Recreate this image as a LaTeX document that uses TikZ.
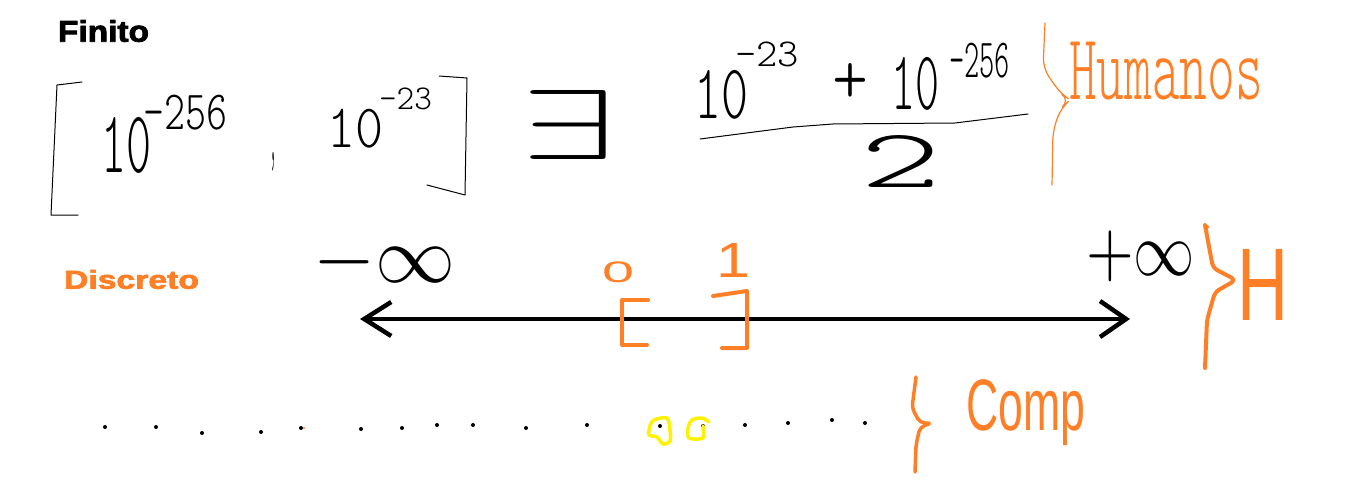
\documentclass[tikz,border=0pt]{standalone}
\usepackage{graphicx}
\usepackage{fontspec}
\usepackage{tikz}
\usetikzlibrary{arrows.meta}
\setmainfont{Liberation Sans}
\newfontfamily\heavyfont[FakeBold=2.5]{Liberation Sans Bold}
\newfontfamily\thinfont{lmmonolt10-regular.otf}
\definecolor{paint_orange}{RGB}{255,127,39}
\definecolor{paint_yellow}{RGB}{255,242,0}
\newcommand{\boxtext}[3]{\resizebox*{#1pt}{#2pt}{#3}}

\begin{document}
\begin{tikzpicture}[x=1pt,y=-1pt,line cap=round,line join=round]
    \tikzstyle{txt}=[inner sep=0pt, outer sep=0pt, anchor=north west]
    \tikzstyle{thin_txt}=[txt, font=\thinfont, text=black]
    \tikzstyle{thin_orange}=[txt, font=\thinfont, text=paint_orange]
    \tikzstyle{thick_orange}=[txt, text=paint_orange]
    \tikzstyle{heading}=[txt, font=\heavyfont]
    \tikzstyle{pen}=[draw=black, line width=1pt]
    \tikzstyle{marker}=[line width=4.5pt]

    \useasboundingbox (0,0) rectangle (1357,484);

    \node[heading, text=black] (finito) at (58,20) {\boxtext{91}{22}{Finito}};
    \node[heading, text=paint_orange] (discreto) at (64,270) {\boxtext{135}{19}{Discreto}};

    \node[thin_txt] (ten_a)     at (101,117) {\boxtext{50}{56}{10}};
    \node[thin_txt] (pow_a)     at (143,95)  {\boxtext{84}{35}{-256}};
    \node[thin_txt] (comma)     at (270,152) {\boxtext{6}{19}{,}};
    \node[thin_txt] (ten_b)     at (327,109) {\boxtext{56}{39}{10}};
    \node[thin_txt] (pow_b)     at (379,88)  {\boxtext{53}{22}{-23}};
    \node[txt] (exists)         at (521,90)  {\boxtext{94}{69}{$\exists$}};
    \node[thin_txt] (num_ten_a) at (694,70)  {\boxtext{54}{49}{10}};
    \node[thin_txt] (num_pow_a) at (735,42)  {\boxtext{64}{25}{-23}};
    \node[thin_txt] (plus)      at (832,63)  {\boxtext{36}{40}{+}};
    \node[thin_txt] (num_ten_b) at (891,57)  {\boxtext{48}{53}{10}};
    \node[thin_txt] (num_pow_b) at (949,43)  {\boxtext{61}{35}{-256}};
    \node[thin_txt] (den_two)   at (860,135) {\boxtext{81}{52}{2}};
    \node[thin_orange] (humanos) at (1069,42) {\boxtext{194}{58}{Humanos}};

    \node[txt] (minus_inf) at (313,235)  {\boxtext{142}{54}{$-\infty$}};
    \node[txt] (plus_inf)  at (1086,231) {\boxtext{109}{51}{$+\infty$}};
    \node[thick_orange] (zero)    at (602,262)  {\boxtext{32}{21}{0}};
    \node[thick_orange] (one)     at (716,243)  {\boxtext{34}{34}{1}};
    \node[thick_orange] (h_label) at (1237,249) {\boxtext{51}{71}{H}};
    \node[thick_orange] (comp)    at (966,380)  {\boxtext{119}{66}{Comp}};

    \draw[pen] (82,82) -- (57,85) -- (51,215) -- (78,215);
    \draw[pen] (439,76) -- (467,78) -- (465,195) -- (427,185);
    \draw[pen] (700,139) -- (793,127) -- (833,124) -- (955,123) -- (1028,114);
    \draw[draw=paint_orange, line width=1.2pt, rounded corners=10pt]
      (1045,23) -- (1043,68) -- (1060,93) -- (1070,100) -- (1061,108) -- (1053,130) -- (1052,185);

    \coordinate (line_l) at (360,319);
    \coordinate (line_r) at (1130,319);
    \draw[marker, {Straight Barb[length=27pt,width=34pt]}-{Straight Barb[length=26pt,width=36pt]}] (line_l) -- (line_r);

    \draw[paint_orange, line width=4pt] (648,300) -- (622,300) -- (622,345) -- (647,345);
    \draw[paint_orange, line width=4pt] (713,296) -- (747,291) -- (747,348) -- (722,348);
    \draw[paint_orange, line width=4pt, rounded corners=5pt]
      (1205,225) -- (1213,268) -- (1236,280) -- (1215,292) -- (1207,320) -- (1205,368);
    \draw[paint_orange, line width=3.5pt, rounded corners=5pt]
      (916,377) -- (912,408) -- (920,423) -- (932,423) -- (920,427) -- (916,445) -- (915,472);

    \foreach \px/\py in {105/427, 156/427, 202/433, 261/432, 301/428, 361/429, 402/428, 437/425,
                         473/425, 526/428, 587/425, 660/426, 703/426, 745/425, 788/423, 832/420, 865/423}
      \fill (\px,\py) circle (2pt);
    \fill[paint_orange] (304,428) circle (1.2pt);
    \fill[paint_orange] (1207,227) circle (2pt);

    \draw[paint_yellow, line width=3.5pt] plot[smooth cycle] coordinates
      {(654,420) (667,418) (670,430) (670,441) (663,444) (657,437) (649,435) (650,426)};
    \draw[paint_yellow, line width=3.5pt] plot[smooth] coordinates
      {(709,422) (702,418) (692,420) (688,428) (689,438) (703,438) (703,426)};
\end{tikzpicture}
\end{document}
